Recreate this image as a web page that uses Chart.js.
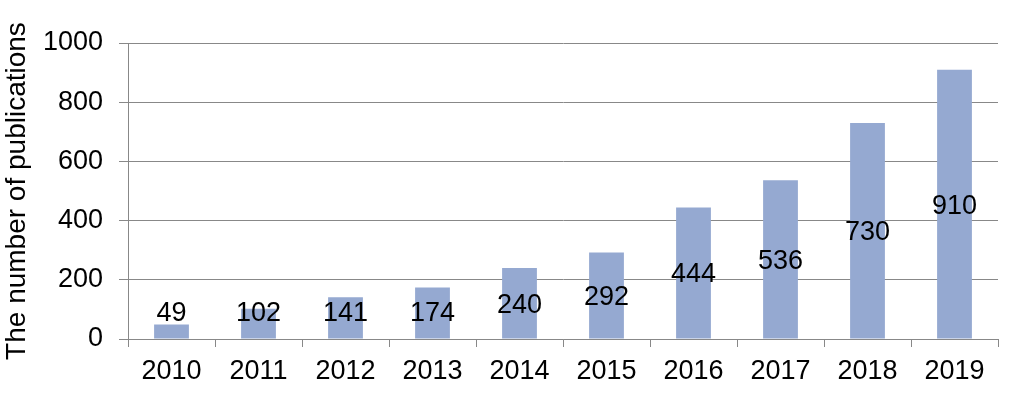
<!DOCTYPE html>
<html>
<head>
<meta charset="utf-8">
<title>Publications per year</title>
<script src="https://cdn.jsdelivr.net/npm/chart.js@4/dist/chart.umd.min.js"></script>
<style>
    html, body { margin: 0; padding: 0; background: #fff; }
    #wrap { width: 1014px; height: 396px; }
</style>
</head>
<body>
<div id="wrap"><canvas id="pubChart" width="1014" height="396"></canvas></div>
<script>
// --- data ---
const years = ['2010', '2011', '2012', '2013', '2014', '2015', '2016', '2017', '2018', '2019'];
const publications = [49, 102, 141, 174, 240, 292, 444, 536, 730, 910];
const yTicks = [0, 200, 400, 600, 800, 1000];

const FONT = "'Liberation Sans', Arial, sans-serif";
const GRID = '#888888';
const BAR = '#95A9D1';

// value labels centred in the bar, but never lower than just above the axis
const barLabels = {
    id: 'barLabels',
    afterDatasetsDraw(chart) {
        const ctx = chart.ctx;
        const meta = chart.getDatasetMeta(0);
        ctx.save();
        ctx.font = '27px ' + FONT;
        ctx.fillStyle = '#000';
        ctx.textAlign = 'center';
        ctx.textBaseline = 'middle';
        meta.data.forEach((bar, i) => {
            const mid = (bar.y + bar.base) / 2 + 2;
            const y = Math.min(mid, bar.base - 25);
            ctx.fillText(String(publications[i]), bar.x, y);
        });
        ctx.restore();
    }
};

new Chart(document.getElementById('pubChart'), {
    type: 'bar',
    data: {
        labels: years,
        datasets: [{
            data: publications,
            backgroundColor: BAR,
            borderWidth: 0,
            categoryPercentage: 1,
            barPercentage: 0.4
        }]
    },
    options: {
        responsive: false,
        animation: false,
        layout: { padding: { left: 0, top: 43, right: 16, bottom: 0 } },
        plugins: { legend: { display: false }, tooltip: { enabled: false } },
        scales: {
            x: {
                afterFit(scale) { scale.height = 57; },
                grid: {
                    offset: true,
                    drawOnChartArea: false,
                    drawTicks: true,
                    tickLength: 8,
                    color: GRID
                },
                border: { color: GRID, width: 1 },
                ticks: {
                    color: '#000',
                    padding: 8,
                    maxRotation: 0,
                    font: { family: FONT, size: 27 }
                }
            },
            y: {
                min: 0,
                max: 1000,
                afterFit(scale) { scale.width = 128; },
                afterBuildTicks(scale) { scale.ticks = yTicks.map(v => ({ value: v })); },
                grid: { color: GRID, tickLength: 9 },
                border: { color: GRID, width: 1 },
                ticks: {
                    color: '#000',
                    padding: 16,
                    font: { family: FONT, size: 27 },
                    callback: (v) => String(v)
                },
                title: {
                    display: true,
                    text: 'The number of publications',
                    color: '#000',
                    padding: 0,
                    font: { family: FONT, size: 28 }
                }
            }
        }
    },
    plugins: [barLabels]
});
</script>
</body>
</html>
